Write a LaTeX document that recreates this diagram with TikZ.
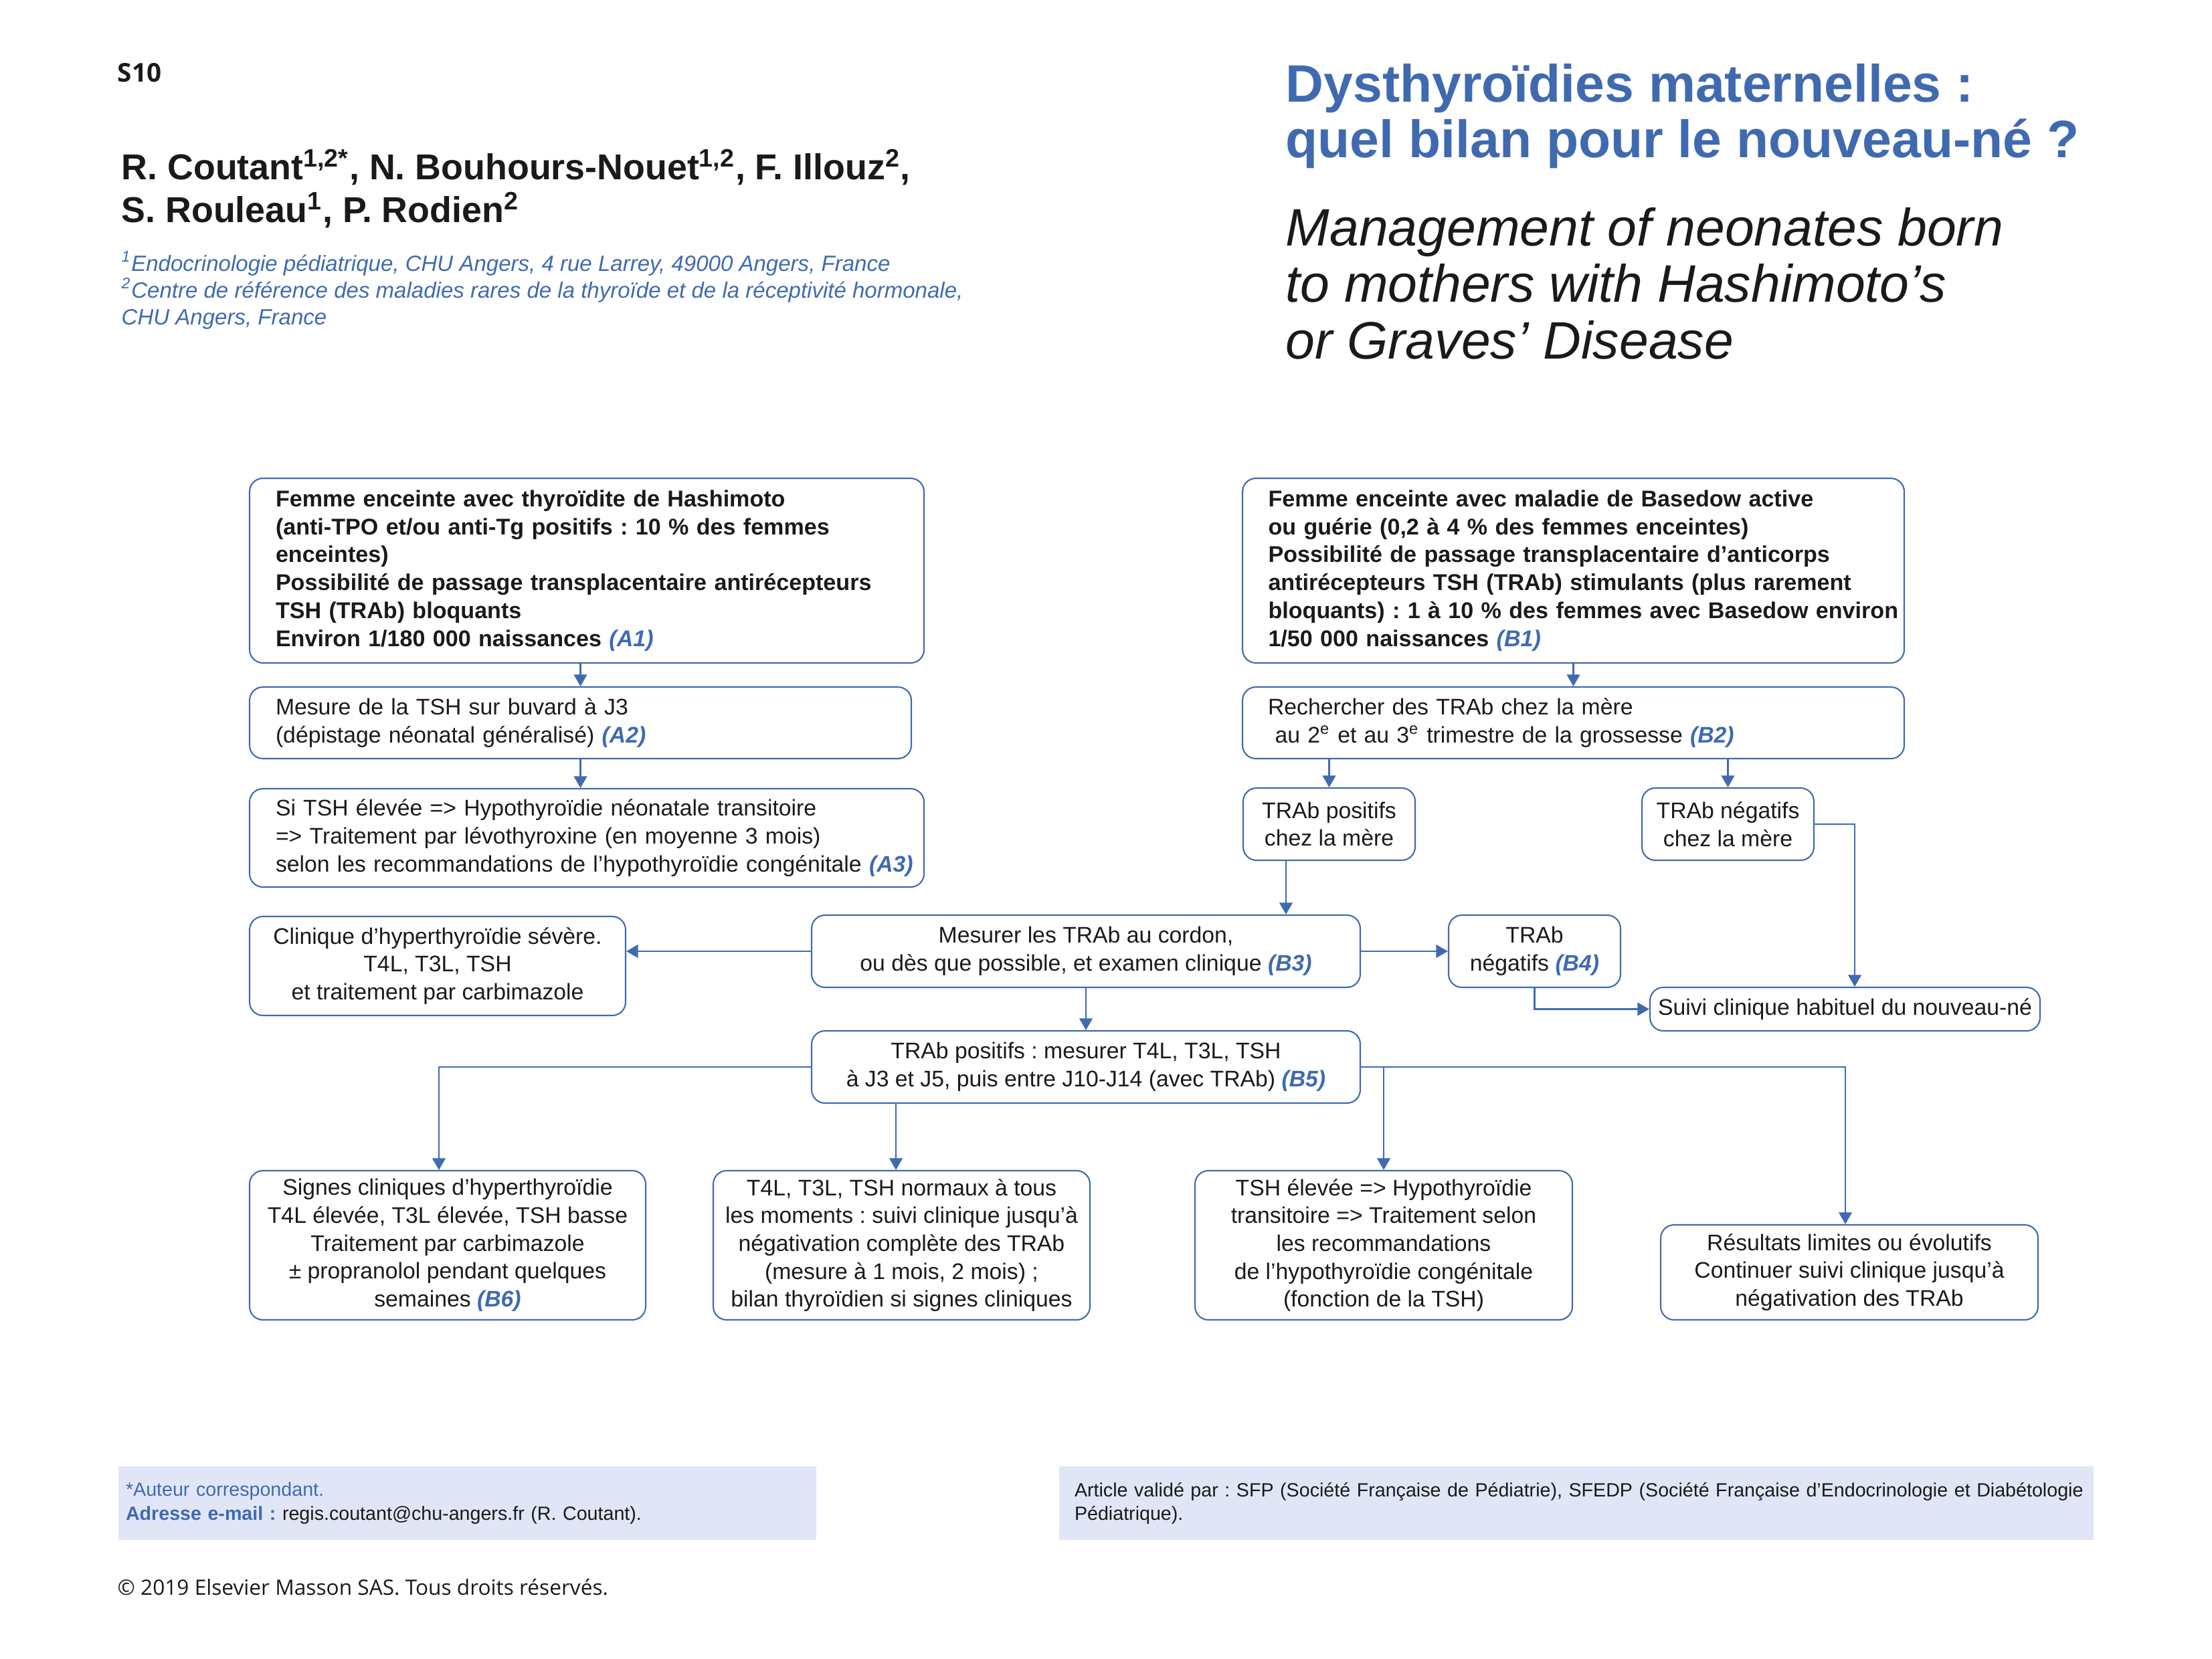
\documentclass[tikz,border=0pt]{standalone}
\usepackage{fontspec}
\setmainfont{Liberation Sans}
\newfontfamily\opensans{Open Sans}
\usetikzlibrary{arrows.meta}
\definecolor{refblue}{RGB}{64,106,176}
\definecolor{footfill}{RGB}{225,230,246}
\definecolor{ink}{RGB}{26,26,26}
\newcommand{\reflab}[1]{\textcolor{refblue}{\textbf{\textit{(#1)}}}}
\frenchspacing
\hyphenpenalty=10000
\exhyphenpenalty=10000

\begin{document}
\begin{tikzpicture}
[x=1cm,y=-1cm,
 box/.style={draw=refblue, line width=0.6pt, rounded corners=0.2cm, text=ink, inner ysep=0pt,
   font=\fontsize{9.6}{11.86}\selectfont},
 boldbox/.style={font=\fontsize{9.7}{11.86}\selectfont},
 lbox/.style={box, align=left, inner xsep=0.05cm,
   execute at begin node={\leftskip=#1\rightskip=-1cm plus 3cm\relax}},
 cbox/.style={box, align=center, inner xsep=0pt},
 arr/.style={draw=refblue, line width=0.6pt, -{Triangle[length=5pt,width=5.6pt]}},
 head/.style={anchor=base west, inner sep=0pt, text=ink},
 foot/.style={fill=footfill, align=left, text=ink, inner xsep=0.05cm, inner ysep=0pt,
   execute at begin node={\leftskip=#1\relax}, font=\fontsize{8.15}{10}\selectfont}]
\useasboundingbox (0,0) rectangle (33.06,24.79);

% header
\node[head, font=\opensans\bfseries\fontsize{11}{13}\selectfont] (page) at (1.75,1.22) {S10};
\foreach \t [count=\i] in {{R. Coutant\textsuperscript{1,2*}, N. Bouhours-Nouet\textsuperscript{1,2}, F. Illouz\textsuperscript{2},},
  {S. Rouleau\textsuperscript{1}, P. Rodien\textsuperscript{2}}}
  \node[head, font=\bfseries\fontsize{15.3}{18}\selectfont] (auth\i) at (1.81,{2.04+0.64*\i}) {\t};
\foreach \t [count=\i] in {{\textsuperscript{1}Endocrinologie pédiatrique, CHU Angers, 4 rue Larrey, 49000 Angers, France},
  {\textsuperscript{2}Centre de référence des maladies rares de la thyroïde et de la réceptivité hormonale,},
  {CHU Angers, France}}
  \node[head, text=refblue, font=\itshape\fontsize{9.4}{11.4}\selectfont] (aff\i) at (1.81,{3.65+0.40*\i}) {\t};
\foreach \t [count=\i] in {Dysthyroïdies maternelles :, quel bilan pour le nouveau-né ?}
  \node[head, text=refblue, font=\bfseries\fontsize{22.4}{24}\selectfont] (title\i) at (19.21,{0.69+0.83*\i}) {\t};
\foreach \t [count=\i] in {Management of neonates born, to mothers with Hashimoto’s, or Graves’ Disease}
  \node[head, font=\itshape\fontsize{22.4}{24}\selectfont] (sub\i) at (19.21,{2.825+0.845*\i}) {\t};

% Hashimoto branch
\node[lbox=0.34cm, boldbox, text width=9.98cm, minimum height=2.76cm] (A1) at (8.77,8.53)
  {\textbf{Femme enceinte avec thyroïdite de Hashimoto\\ (anti-TPO et/ou anti-Tg positifs : 10~\% des femmes\\ enceintes)\\ Possibilité de passage transplacentaire antirécepteurs\\ TSH (TRAb) bloquants\\ Environ 1/180~000 naissances} \reflab{A1}};
\node[lbox=0.34cm, text width=9.79cm, minimum height=1.07cm] (A2) at (8.675,10.805)
  {Mesure de la TSH sur buvard à J3\\ (dépistage néonatal généralisé) \reflab{A2}};
\node[lbox=0.34cm, text width=9.98cm, minimum height=1.47cm] (A3) at (8.77,12.525)
  {Si TSH élevée => Hypothyroïdie néonatale transitoire\\ => Traitement par lévothyroxine (en moyenne 3 mois)\\ selon les recommandations de l’hypothyroïdie congénitale \reflab{A3}};

% Basedow branch
\node[lbox=0.335cm, boldbox, text width=9.79cm, minimum height=2.76cm] (B1) at (23.515,8.53)
  {\textbf{Femme enceinte avec maladie de Basedow active\\ ou guérie (0,2 à 4~\% des femmes enceintes)\\ Possibilité de passage transplacentaire d’anticorps\\ antirécepteurs TSH (TRAb) stimulants (plus rarement\\ bloquants) : 1 à 10~\% des femmes avec Basedow environ\\ 1/50~000 naissances} \reflab{B1}};
\node[lbox=0.33cm, text width=9.79cm, minimum height=1.07cm] (B2) at (23.515,10.805)
  {Rechercher des TRAb chez la mère\\ \hspace*{3pt}au 2\textsuperscript{e} et au 3\textsuperscript{e} trimestre de la grossesse \reflab{B2}};
\node[cbox, minimum width=2.57cm, minimum height=1.08cm] (pos) at (19.865,12.32) {TRAb positifs\\ chez la mère};
\node[cbox, minimum width=2.57cm, minimum height=1.08cm] (neg) at (25.825,12.32) {TRAb négatifs\\ chez la mère};
\node[cbox, minimum width=8.20cm, minimum height=1.08cm] (B3) at (16.23,14.22)
  {Mesurer les TRAb au cordon,\\ ou dès que possible, et examen clinique \reflab{B3}};
\node[cbox, minimum width=5.62cm, minimum height=1.48cm] (clin) at (6.54,14.44)
  {Clinique d’hyperthyroïdie sévère.\\ T4L, T3L, TSH\\ et traitement par carbimazole};
\node[cbox, minimum width=2.57cm, minimum height=1.08cm] (B4) at (22.935,14.22) {TRAb\\ négatifs \reflab{B4}};
\node[cbox, minimum width=5.83cm, minimum height=0.65cm] (suivi) at (27.575,15.085) {Suivi clinique habituel du nouveau-né};
\node[cbox, minimum width=8.20cm, minimum height=1.08cm] (B5) at (16.23,15.95)
  {TRAb positifs : mesurer T4L, T3L, TSH\\ à J3 et J5, puis entre J10-J14 (avec TRAb) \reflab{B5}};
\node[cbox, minimum width=5.92cm, minimum height=2.23cm] (B6) at (6.69,18.615)
  {Signes cliniques d’hyperthyroïdie\\ T4L élevée, T3L élevée, TSH basse\\ Traitement par carbimazole\\ ± propranolol pendant quelques\\ semaines \reflab{B6}};
\node[cbox, minimum width=5.63cm, minimum height=2.23cm] (norm) at (13.475,18.615)
  {T4L, T3L, TSH normaux à tous\\ les moments : suivi clinique jusqu’à\\ négativation complète des TRAb\\ (mesure à 1 mois, 2 mois) ;\\ bilan thyroïdien si signes cliniques};
\node[cbox, minimum width=5.64cm, minimum height=2.23cm] (tsh) at (20.68,18.615)
  {TSH élevée => Hypothyroïdie\\ transitoire => Traitement selon\\ les recommandations\\ de l’hypothyroïdie congénitale\\ (fonction de la TSH)};
\node[cbox, minimum width=5.64cm, minimum height=1.42cm] (res) at (27.64,19.02)
  {Résultats limites ou évolutifs\\ Continuer suivi clinique jusqu’à\\ négativation des TRAb};

% connectors
\draw[arr] (A2.north |- A1.south) -- (A2.north);
\draw[arr] (A2.south) -- (A2.south |- A3.north);
\draw[arr] (B1.south) -- (B2.north);
\draw[arr] (pos.north |- B2.south) -- (pos.north);
\draw[arr] (neg.north |- B2.south) -- (neg.north);
\draw[arr] ([xshift=-0.645cm]pos.south) -- ([xshift=-0.645cm]pos.south |- B3.north);
\draw[arr] (neg.east) -| ([xshift=0.145cm]suivi.north);
\draw[arr] (B3.west) -- (B3.west -| clin.east);
\draw[arr] (B3.east) -- (B4.west);
\draw[arr] (B4.south) |- (suivi.west);
\draw[arr] (B3.south) -- (B5.north);
\draw[arr] (B5.west) -| ([xshift=-0.13cm]B6.north);
\draw[arr] ([xshift=-0.085cm]norm.north |- B5.south) -- ([xshift=-0.085cm]norm.north);
\draw[arr] (B5.east) -| ([xshift=-0.06cm]res.north);
\draw[arr] (tsh.north |- B5.east) -- (tsh.north);

% footer
\node[foot=0.06cm, text width=10.33cm, minimum height=1.10cm, text=refblue] (corr) at (6.985,22.47)
  {*Auteur correspondant.\\ \textbf{Adresse e-mail :} \textcolor{ink}{regis.coutant@chu-angers.fr (R. Coutant).}};
\node[foot=0.18cm, text width=15.36cm, minimum height=1.10cm] (valid) at (23.56,22.47)
  {Article validé par : SFP (Société Française de Pédiatrie), SFEDP (Société Française d’Endocrinologie et Diabétologie\\ Pédiatrique).};
\node[head, font=\opensans\fontsize{9}{11}\selectfont] (copy) at (1.75,23.84) {© 2019 Elsevier Masson SAS. Tous droits réservés.};
\end{tikzpicture}
\end{document}
